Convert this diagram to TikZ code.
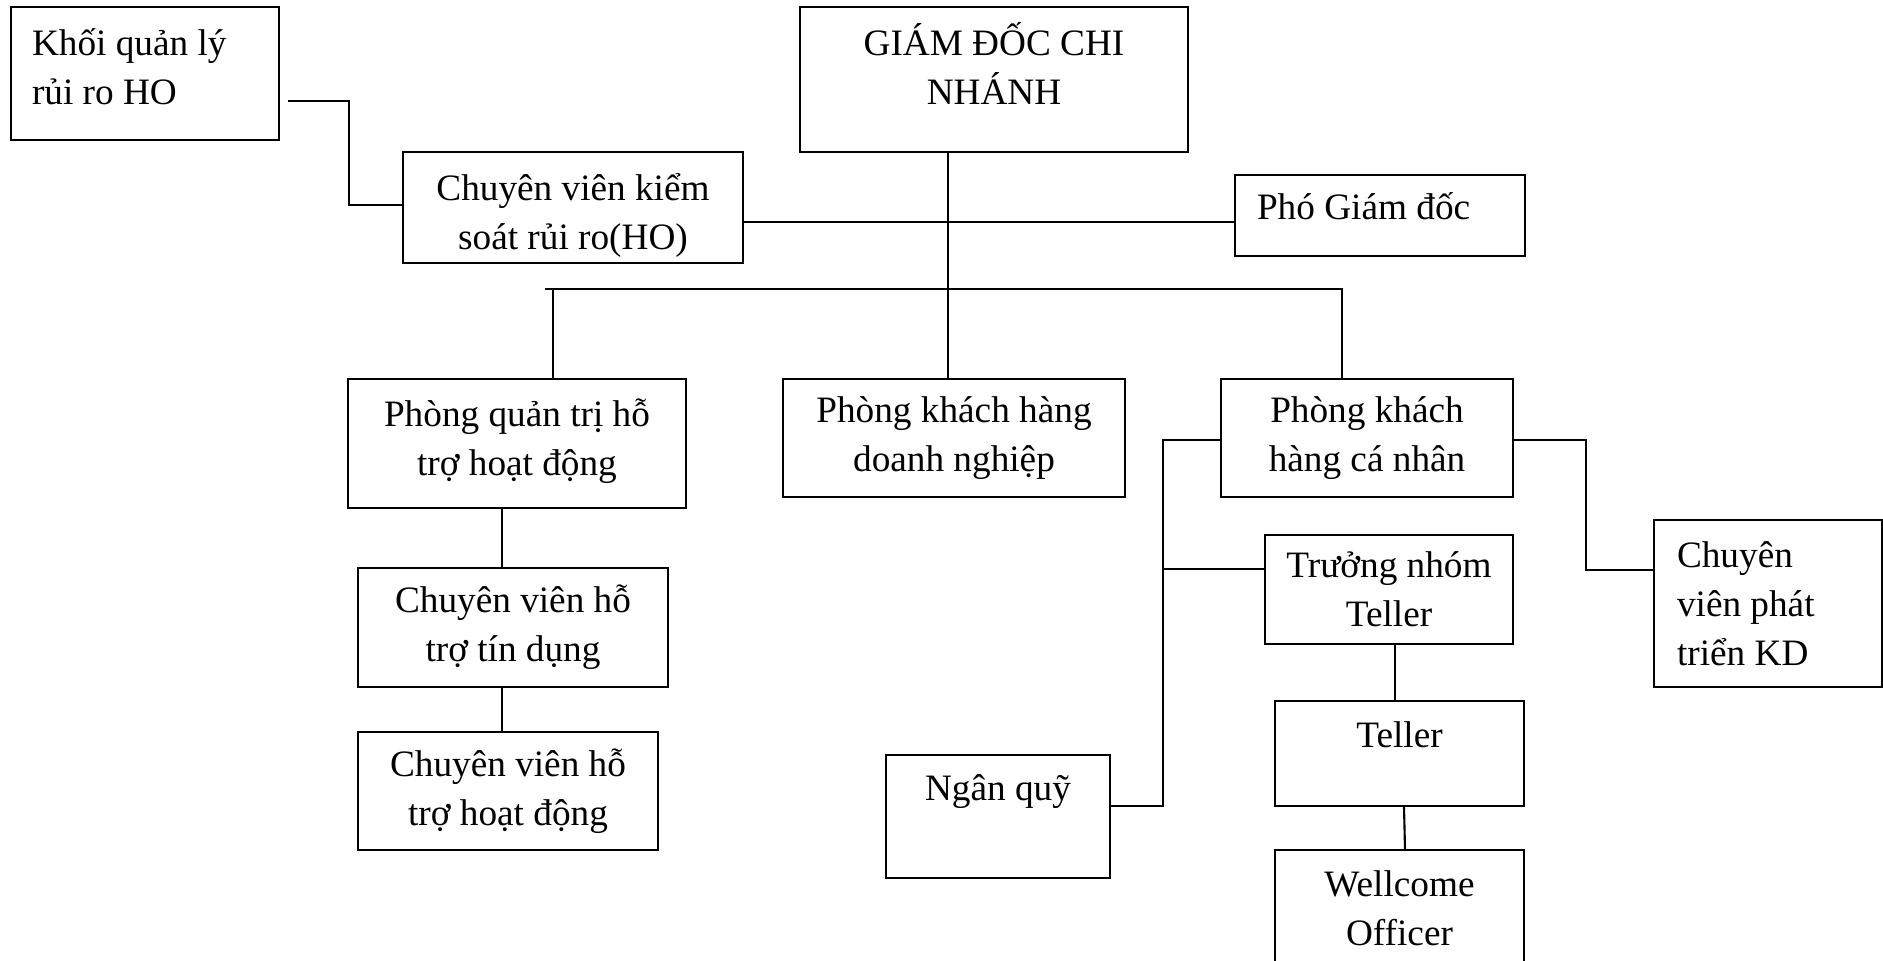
\documentclass[tikz,border=0pt]{standalone}
\usepackage{fontspec}
\setmainfont{Liberation Serif}

\begin{document}
\begin{tikzpicture}[x=0.1mm, y=-0.1mm, line width=0.6pt,
	box/.style={shape=rectangle, draw=black, align=flush center, inner sep=0pt,
		font=\fontsize{10.6}{13.9}\selectfont},
	leftbox/.style={box, align=flush left, text width=#1}]
	\clip (0,0) rectangle (1883,960);
	\node[leftbox=22.6mm, inner xsep=2.1mm, minimum height=13.3mm, text height=9pt, text depth=19pt] (khoi) at (145,73.5) {Khối quản lý\\rủi ro HO};
	\node[box, text width=34mm, minimum height=11.1mm, text height=12pt] (cvks) at (573,207.5) {Chuyên viên kiểm\\soát rủi ro(HO)};
	\node[box, text width=38.8mm, minimum height=14.5mm, text height=9pt, text depth=22.5pt] (gd) at (994,79.5) {GIÁM ĐỐC CHI\\NHÁNH};
	\node[leftbox=24.6mm, inner xsep=2.2mm, minimum height=8.1mm, text height=9pt, text depth=6.5pt] (pgd) at (1380,215.5) {Phó Giám đốc};
	\node[box, text width=33.8mm, minimum height=12.9mm, text height=9pt, text depth=18.5pt] (pqtht) at (517,443.5) {Phòng quản trị hỗ\\trợ hoạt động};
	\node[box, minimum width=34.2mm, minimum height=11.8mm] (pkhdn) at (954,438) {Phòng khách hàng\\doanh nghiệp};
	\node[box, minimum width=29.2mm, minimum height=11.8mm] (pkhcn) at (1367,438) {Phòng khách\\hàng cá nhân};
	\node[box, minimum width=31mm, minimum height=11.9mm] (cvhttd) at (513,627.5) {Chuyên viên hỗ\\trợ tín dụng};
	\node[box, minimum width=30mm, minimum height=11.8mm] (cvhthd) at (508,791) {Chuyên viên hỗ\\trợ hoạt động};
	\node[box, minimum width=22.4mm, minimum height=12.3mm, text height=9pt, text depth=17.9pt] (nq) at (998,816.5) {Ngân quỹ};
	\node[box, minimum width=24.8mm, minimum height=10.9mm] (tn) at (1389,589.5) {Trưởng nhóm\\Teller};
	\node[box, minimum width=24.9mm, minimum height=10.5mm, text height=9pt, text depth=12.7pt] (teller) at (1399.5,753.5) {Teller};
	\node[box, minimum width=24.9mm, minimum height=11.6mm] (wo) at (1399.5,908) {Wellcome\\Officer};
	\node[leftbox=18.2mm, inner xsep=2.3mm, minimum height=16.7mm] (cvpt) at (1768,603.5) {Chuyên\\viên phát\\triển KD};
	% bus and trunk points
	\coordinate (bus-l) at (545,289);
	\coordinate (bus-r) at (1342,289);
	\coordinate (trunk-l) at (1163,569);
	\coordinate (trunk-r) at (1586,570);
	\draw[shorten <=0.8mm] (khoi.east |- 0,101) -- (349,101) |- (cvks.west |- 0,205);
	\draw (cvks.east |- 0,222) -- (pgd.west |- 0,222);
	\draw (gd.south -| 948,0) -- (pkhdn.north -| 948,0);
	\draw (bus-l) -- (bus-r) -- (bus-r |- pkhcn.north);
	\draw (bus-l -| 553,0) -- (pqtht.north -| 553,0);
	\draw (pqtht.south -| 502,0) -- (cvhttd.north -| 502,0);
	\draw (cvhttd.south -| 502,0) -- (cvhthd.north -| 502,0);
	\draw (pkhcn.west |- 0,440) -| (trunk-l) |- (nq.east |- 0,806);
	\draw (trunk-l) -- (tn.west |- trunk-l);
	\draw (pkhcn.east |- 0,440) -| (trunk-r) -- (cvpt.west |- trunk-r);
	\draw (tn.south -| 1395,0) -- (teller.north -| 1395,0);
	\draw (teller.south -| 1404,0) -- (wo.north -| 1405,0);
\end{tikzpicture}
\end{document}
